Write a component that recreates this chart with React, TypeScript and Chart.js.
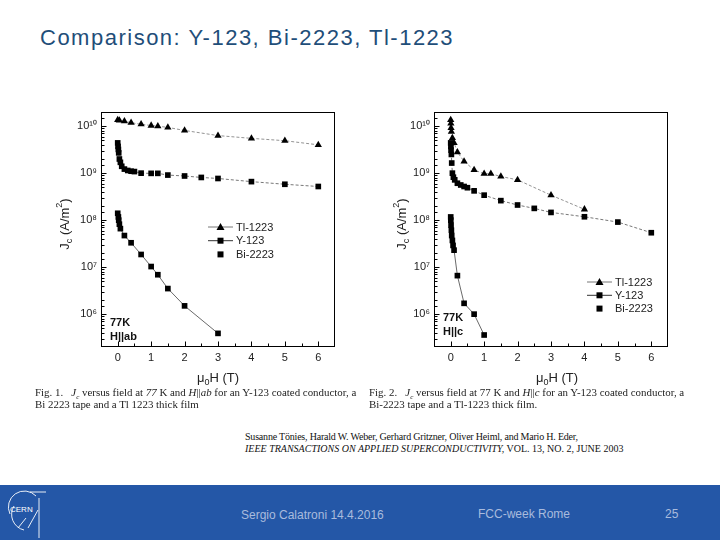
import React, { useEffect, useRef } from "react";
import { Chart, registerables } from "chart.js";
Chart.register(...registerables);

const SANS = '"Liberation Sans", Arial, sans-serif';
const SERIF = '"Liberation Serif", "Times New Roman", serif';

const SERIES_NAMES = ["Tl-1223", "Y-123", "Bi-2223"];
const X_LABELS = [0, 1, 2, 3, 4, 5, 6];
const SUP: Record<string, string> = { "0": "⁰", "1": "¹", "2": "²", "3": "³", "4": "⁴", "5": "⁵", "6": "⁶", "7": "⁷", "8": "⁸", "9": "⁹" };

// Fig. 1  (77 K, H || ab)
const abTlField = [0, 0.05, 0.2, 0.4, 0.7, 1.0, 1.2, 1.5, 2, 3, 4, 5, 6];
const abTlJc = [1.35e10, 1.33e10, 1.28e10, 1.18e10, 1.1e10, 1.03e10, 1.0e10, 9.4e9, 8.1e9, 6.3e9, 5.5e9, 4.9e9, 4.0e9];
const abYField = [0, 0.01, 0.02, 0.03, 0.05, 0.08, 0.12, 0.2, 0.3, 0.4, 0.5, 0.7, 1.0, 1.2, 1.5, 2, 2.5, 3, 4, 5, 6];
const abYJc = [4.4e9, 3.7e9, 3.2e9, 2.7e9, 2.0e9, 1.7e9, 1.4e9, 1.22e9, 1.14e9, 1.1e9, 1.08e9, 1.0e9, 9.9e8, 9.9e8, 9.1e8, 8.7e8, 8.1e8, 7.7e8, 6.6e8, 5.8e8, 5.2e8];
const abBiField = [0, 0.02, 0.03, 0.05, 0.08, 0.2, 0.4, 0.7, 1.0, 1.2, 1.5, 2, 3];
const abBiJc = [1.4e8, 1.17e8, 1.0e8, 8.2e7, 6.6e7, 4.7e7, 3.3e7, 1.86e7, 1.03e7, 6.9e6, 3.5e6, 1.5e6, 3.9e5];

// Fig. 2  (77 K, H || c)
const cTlField = [0, 0.005, 0.01, 0.02, 0.05, 0.1, 0.2, 0.4, 0.7, 1.0, 1.2, 1.5, 2, 3, 4];
const cTlJc = [1.35e10, 1.14e10, 9.2e9, 7.6e9, 5.6e9, 4.4e9, 2.8e9, 1.78e9, 1.17e9, 9.7e8, 9.7e8, 8.5e8, 7.2e8, 3.4e8, 1.7e8];
const cYField = [0, 0.005, 0.01, 0.02, 0.03, 0.05, 0.08, 0.12, 0.2, 0.3, 0.4, 0.5, 0.7, 1.0, 1.5, 2, 2.5, 3, 4, 5, 6];
const cYJc = [4.4e9, 3.7e9, 3.1e9, 2.5e9, 1.64e9, 1.0e9, 8.2e8, 7.2e8, 6.1e8, 5.6e8, 5.2e8, 4.9e8, 4.2e8, 3.4e8, 2.6e8, 2.1e8, 1.78e8, 1.46e8, 1.18e8, 9.1e7, 5.4e7];
const cBiField = [0, 0.003, 0.01, 0.02, 0.03, 0.05, 0.07, 0.1, 0.2, 0.4, 0.7, 1.0];
const cBiJc = [1.17e8, 1.0e8, 7.8e7, 6.1e7, 4.7e7, 3.7e7, 2.9e7, 2.3e7, 6.6e6, 1.7e6, 1.0e6, 3.6e5];

type Part = { t: string; sub?: boolean; sup?: boolean };

function drawRich(ctx: CanvasRenderingContext2D, parts: Part[], x: number, y: number, size: number, align: "center" | "left", weight = "normal") {
  const fontFor = (p: Part) => `${weight} ${p.sub || p.sup ? Math.round(size * 0.68) : size}px ${SANS}`;
  const widths = parts.map((p) => {
    ctx.font = fontFor(p);
    return ctx.measureText(p.t).width;
  });
  const total = widths.reduce((a, b) => a + b, 0);
  let cx = align === "center" ? x - total / 2 : x;
  ctx.textAlign = "left";
  ctx.textBaseline = "middle";
  parts.forEach((p, i) => {
    ctx.font = fontFor(p);
    const dy = p.sub ? size * 0.32 : p.sup ? -size * 0.42 : 0;
    ctx.fillText(p.t, cx, y + dy);
    cx += widths[i];
  });
}

const decoPlugin = {
  id: "deco",
  afterDraw(chart: any) {
    const o = chart.options.plugins.deco;
    if (!o) return;
    const ctx: CanvasRenderingContext2D = chart.ctx;
    const a = chart.chartArea;
    ctx.save();
    ctx.strokeStyle = "#000";
    ctx.lineWidth = 1;
    const L = Math.round(a.left) + 0.5, T = Math.round(a.top) + 0.5, R = Math.round(a.right) - 0.5, B = Math.round(a.bottom) - 0.5;
    ctx.strokeRect(L, T, R - L, B - T);
    ctx.beginPath();
    const xs = chart.scales.x;
    xs.ticks.forEach((t: any) => {
      const v = t.value;
      if (v < -0.01 || v > 6.01) return;
      const major = Math.abs(v - Math.round(v)) < 1e-6;
      const px = Math.round(xs.getPixelForValue(v)) + 0.5;
      ctx.moveTo(px, B);
      ctx.lineTo(px, B - (major ? 5 : 3));
    });
    const ys = chart.scales.y;
    ys.ticks.forEach((t: any) => {
      const v = t.value;
      const lg = Math.log10(v);
      const major = Math.abs(lg - Math.round(lg)) < 1e-6;
      const py = Math.round(ys.getPixelForValue(v)) + 0.5;
      if (py < a.top + 1 || py > a.bottom - 1) return;
      ctx.moveTo(L, py);
      ctx.lineTo(L + (major ? 5 : 3), py);
    });
    ctx.stroke();

    // legend
    o.legend.items.forEach((it: any, i: number) => {
      const y = a.top + o.legend.y + i * o.legend.dy;
      const x0 = a.left + o.legend.x0, x1 = a.left + o.legend.x1;
      if (it.line) {
        ctx.save();
        ctx.strokeStyle = it.color;
        ctx.lineWidth = 1;
        ctx.setLineDash(it.dash || []);
        ctx.beginPath();
        ctx.moveTo(x0, y);
        ctx.lineTo(x1, y);
        ctx.stroke();
        ctx.restore();
      }
      const mx = (x0 + x1) / 2;
      ctx.fillStyle = "#000";
      ctx.beginPath();
      if (it.marker === "triangle") {
        ctx.moveTo(mx, y - 4);
        ctx.lineTo(mx + 4, y + 3);
        ctx.lineTo(mx - 4, y + 3);
        ctx.closePath();
        ctx.fill();
      } else {
        ctx.fillRect(mx - 3, y - 3, 6, 6);
      }
      ctx.fillStyle = "#222";
      ctx.font = `11px ${SANS}`;
      ctx.textAlign = "left";
      ctx.textBaseline = "middle";
      ctx.fillText(it.label, a.left + o.legend.tx, y + 0.5);
    });

    // notes
    ctx.fillStyle = "#111";
    o.notes.forEach((n: any) => {
      ctx.font = `bold 11px ${SANS}`;
      ctx.textAlign = "left";
      ctx.textBaseline = "middle";
      ctx.fillText(n.text, a.left + n.x, a.top + n.y);
    });

    // axis titles
    ctx.fillStyle = "#222";
    drawRich(ctx, [{ t: "μ" }, { t: "0", sub: true }, { t: "H (T)" }], (a.left + a.right) / 2 + o.xTitleDx, o.xTitleY, 13, "center");
    ctx.save();
    ctx.translate(o.yTitleX, o.yTitleY);
    ctx.rotate(-Math.PI / 2);
    drawRich(ctx, [{ t: "J" }, { t: "c", sub: true }, { t: " (A/m" }, { t: "2", sup: true }, { t: ")" }], 0, 0, 13, "center");
    ctx.restore();
    ctx.restore();
  },
};

const pts = (xs: number[], ys: number[]) => xs.map((x, i) => ({ x, y: ys[i] }));

function makeDatasets(tl: any[], y: any[], bi: any[]) {
  return [
    {
      label: SERIES_NAMES[2], data: bi, showLine: true, borderColor: "#444", borderWidth: 0.8,
      pointStyle: "rect", pointRadius: 4, pointBackgroundColor: "#000", pointBorderColor: "#000", pointBorderWidth: 0,
    },
    {
      label: SERIES_NAMES[1], data: y, showLine: true, borderColor: "#555", borderWidth: 0.8, borderDash: [3, 2],
      pointStyle: "rect", pointRadius: 4, pointBackgroundColor: "#000", pointBorderColor: "#000", pointBorderWidth: 0,
    },
    {
      label: SERIES_NAMES[0], data: tl, showLine: true, borderColor: "#777", borderWidth: 0.8, borderDash: [3, 2],
      pointStyle: "triangle", pointRadius: 4.2, pointBackgroundColor: "#000", pointBorderColor: "#000", pointBorderWidth: 0,
    },
  ];
}

function JcChart(props: { left: number; top: number; datasets: any[]; deco: any }) {
  const ref = useRef<HTMLCanvasElement | null>(null);
  useEffect(() => {
    if (!ref.current) return;
    const chart = new Chart(ref.current, {
      type: "scatter",
      data: { datasets: props.datasets },
      options: {
        animation: false,
        responsive: false,
        layout: { padding: { top: 12, right: 15, left: 0, bottom: 0 } },
        plugins: { legend: { display: false }, tooltip: { enabled: false }, deco: props.deco } as any,
        scales: {
          x: {
            type: "linear", min: -0.5, max: 6.5,
            grid: { display: false, drawTicks: false }, border: { display: false },
            afterFit: (s: any) => { s.height = 43; },
            ticks: {
              stepSize: 0.5, autoSkip: false, maxRotation: 0, padding: 4, color: "#222",
              font: { family: SANS, size: 11 },
              callback: (v: any) => (X_LABELS.includes(Number(v)) ? String(v) : ""),
            },
          },
          y: {
            type: "logarithmic", min: 2e5, max: 2e10,
            grid: { display: false, drawTicks: false }, border: { display: false },
            afterFit: (s: any) => { s.width = 61; },
            ticks: {
              autoSkip: false, padding: 4, color: "#222",
              font: { family: SANS, size: 11 },
              callback: (v: any) => {
                const lg = Math.log10(Number(v));
                if (Math.abs(lg - Math.round(lg)) > 1e-6) return "";
                return "10" + String(Math.round(lg)).split("").map((c) => SUP[c]).join("");
              },
            },
          },
        },
      } as any,
      plugins: [decoPlugin],
    });
    return () => chart.destroy();
  }, []);
  return <canvas ref={ref} width={310} height={290} style={{ position: "absolute", left: props.left, top: props.top, width: 310, height: 290 }} />;
}

const legendItems = [
  { label: SERIES_NAMES[0], marker: "triangle", line: true, color: "#777", dash: [] },
  { label: SERIES_NAMES[1], marker: "rect", line: true, color: "#333", dash: [] },
  { label: SERIES_NAMES[2], marker: "rect", line: false },
];

const abs = (l: number, t: number, extra: any = {}) => ({ position: "absolute" as const, left: l, top: t, whiteSpace: "nowrap" as const, ...extra });

export default function App() {
  const capStyle = { fontFamily: SERIF, fontSize: 10.9, color: "#222", lineHeight: "12px" };
  const subStyle = { fontSize: 7, lineHeight: 0 };
  return (
    <div style={{ position: "fixed", left: 0, top: 0, width: 720, height: 540, background: "#fff", overflow: "hidden" }}>
      <div style={abs(40, 24, { fontFamily: SANS, fontSize: 22, letterSpacing: 1.5, color: "#1F4E79", lineHeight: "28px" })}>
        Comparison: Y-123, Bi-2223, Tl-1223
      </div>
      <JcChart
        left={40}
        top={100}
        datasets={makeDatasets(pts(abTlField, abTlJc), pts(abYField, abYJc), pts(abBiField, abBiJc))}
        deco={{
          legend: { x0: 107, x1: 132, tx: 135, y: 115, dy: 13.7, items: legendItems },
          notes: [{ text: "77K", x: 9, y: 211 }, { text: "H||ab", x: 9, y: 225 }],
          xTitleY: 278, xTitleDx: 0, yTitleX: 25, yTitleY: 124,
        }}
      />
      <JcChart
        left={373}
        top={100}
        datasets={makeDatasets(pts(cTlField, cTlJc), pts(cYField, cYJc), pts(cBiField, cBiJc))}
        deco={{
          legend: { x0: 153, x1: 178, tx: 181, y: 170, dy: 13.3, items: legendItems },
          notes: [{ text: "77K", x: 9, y: 206 }, { text: "H||c", x: 9, y: 220 }],
          xTitleY: 278, xTitleDx: 6, yTitleX: 29, yTitleY: 124,
        }}
      />
      <div style={abs(35, 386, capStyle)}>
        <div>Fig. 1.&nbsp;&nbsp;&nbsp;<i>J<sub style={subStyle}>c</sub></i> versus field at <i>77</i> K and <i>H</i>||<i>ab</i> for an Y-123 coated conductor, a</div>
        <div>Bi 2223 tape and a Tl 1223 thick film</div>
      </div>
      <div style={abs(369, 386, capStyle)}>
        <div>Fig. 2.&nbsp;&nbsp;&nbsp;<i>J<sub style={subStyle}>c</sub></i> versus field at 77 K and <i>H</i>||<i>c</i> for an Y-123 coated conductor, a</div>
        <div>Bi-2223 tape and a Tl-1223 thick film.</div>
      </div>
      <div style={abs(245, 431, { fontFamily: SERIF, fontSize: 10, color: "#111", lineHeight: "12px" })}>
        <div style={{ letterSpacing: -0.2 }}>Susanne Tönies, Harald W. Weber, Gerhard Gritzner, Oliver Heiml, and Mario H. Eder,</div>
        <div style={{ letterSpacing: 0 }}><i>IEEE TRANSACTIONS ON APPLIED SUPERCONDUCTIVITY,</i> VOL. 13, NO. 2, JUNE 2003</div>
      </div>
      <div style={{ position: "absolute", left: 0, top: 485, width: 720, height: 55, background: "#2457A7" }}>
        <svg width={44} height={50} style={{ position: "absolute", left: 6, top: 3 }} viewBox="0 0 44 50">
          <g fill="none" stroke="#fff" strokeWidth={0.9}>
            <path d="M4 26 A16 16 0 0 1 30 8" />
            <path d="M8 18 A16 16 0 0 0 18 42" />
            <path d="M22 40 L32 22" />
            <path d="M33 10 L33 50" />
            <path d="M12 40 L20 30" />
            <path d="M24 4 L40 4" />
          </g>
          <text x={4} y={24} fill="#fff" fontSize={8} fontFamily={SANS}>CERN</text>
        </svg>
        <div style={abs(241, 22, { fontFamily: SANS, fontSize: 12, color: "#A9BBDD", lineHeight: "16px" })}>Sergio Calatroni 14.4.2016</div>
        <div style={abs(478, 21, { fontFamily: SANS, fontSize: 12, color: "#A9BBDD", lineHeight: "16px" })}>FCC-week Rome</div>
        <div style={abs(665, 21, { fontFamily: SANS, fontSize: 12, color: "#A9BBDD", lineHeight: "16px" })}>25</div>
      </div>
    </div>
  );
}
